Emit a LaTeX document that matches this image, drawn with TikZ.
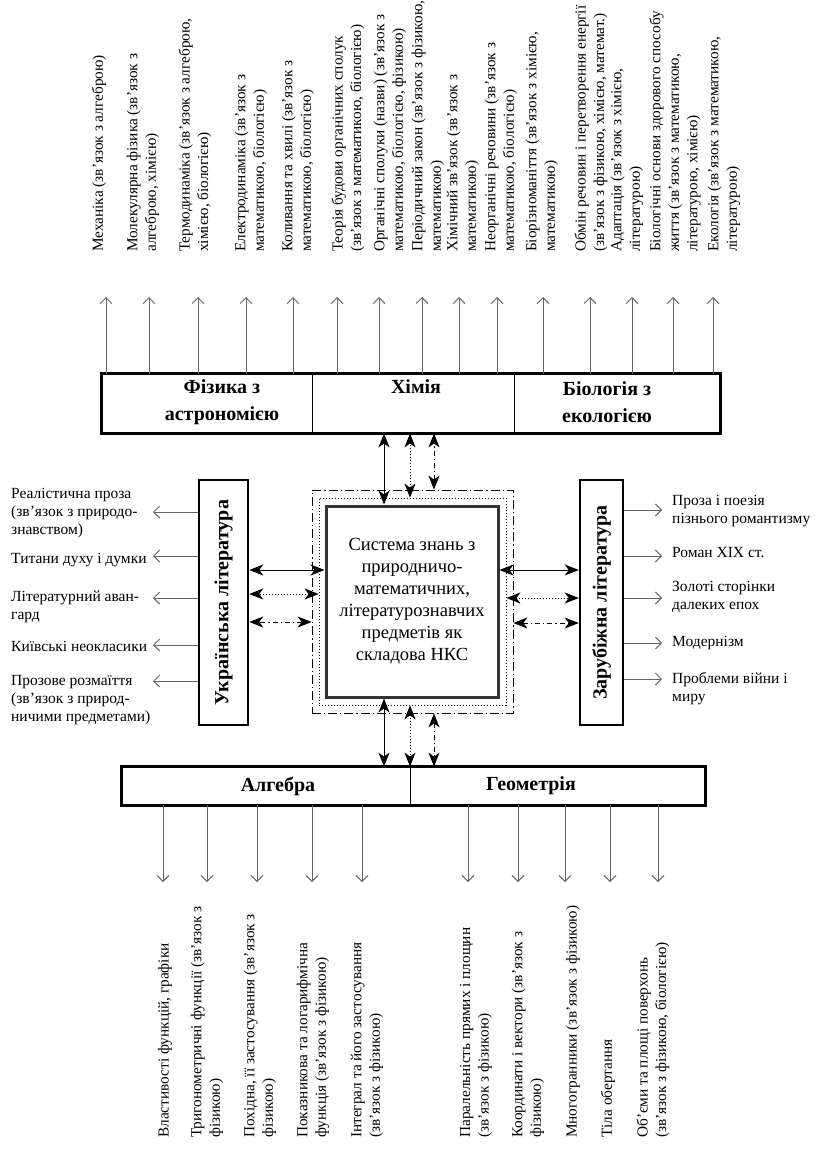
\documentclass[tikz,border=0pt]{standalone}
\usepackage{fontspec}
\setmainfont{Liberation Serif}
\usetikzlibrary{arrows.meta}
\tikzset{
  topic/.style={draw=black!60, line width=0.9pt, -{Straight Barb[length=6pt,width=12pt]}},
  link/.style={line width=0.9pt, {Stealth[length=14pt,width=11pt,inset=4pt]}-{Stealth[length=14pt,width=11pt,inset=4pt]}},
  dotl/.style={link, dash pattern=on 1.2pt off 1.8pt},
  ddl/.style={link, dash pattern=on 5pt off 3pt on 1.2pt off 3pt},
  sect/.style={draw, line width=0.8pt, inner sep=0pt},
  sectlabel/.style={inner sep=0pt, align=center, font=\fontsize{20}{27}\selectfont\bfseries},
  vtext/.style={rotate=90, anchor=west, align=left, inner sep=0pt, font=\fontsize{15.3}{18.5}\selectfont},
  htext/.style={anchor=west, align=left, inner sep=0pt, font=\fontsize{15.5}{18}\selectfont},
  litbox/.style={draw, line width=2.5pt, fill=white, minimum height=245pt, inner sep=0pt, font=\fontsize{20}{22}\selectfont\bfseries},
  frame/.style={draw, line width=0.8pt, inner sep=0pt},
}
\begin{document}
\begin{tikzpicture}[x=1pt,y=-1pt]
\fill[white] (0,0) rectangle (817,1151);
\useasboundingbox (0,0) rectangle (817,1151);

% ---------- top subject box ----------
\node[sect, minimum width=210pt, minimum height=59pt] (phys) at (207,403.5) {};
\node[sect, minimum width=202pt, minimum height=59pt] (chem) at (413,403.5) {};
\node[sect, minimum width=206pt, minimum height=59pt] (bio) at (617,403.5) {};
\draw[line width=2.5pt] (phys.north west) rectangle (bio.south east);
\node[sectlabel] (physl) at (222,402) {Фізика з\\астрономією};
\node[sectlabel, anchor=north] (cheml) at (416,379.5) {Хімія};
\node[sectlabel] (biol) at (607,402) {Біологія з\\екологією};

% ---------- bottom subject box ----------
\node[sect, minimum width=288pt, minimum height=38pt] (alg) at (266,786) {};
\node[sect, minimum width=295pt, minimum height=38pt] (geo) at (557.5,786) {};
\draw[line width=2.5pt] (alg.north west) rectangle (geo.south east);
\node[sectlabel] (algl) at (278,786) {Алгебра};
\node[sectlabel] (geol) at (531,786) {Геометрія};

% ---------- literature boxes ----------
\node[litbox, minimum width=49pt] (ukr) at (223.5,602.5) {\rotatebox{90}{Українська література}};
\node[litbox, minimum width=43pt] (zar) at (601.5,602.5) {\rotatebox{90}{Зарубіжна література}};

% ---------- central system ----------
\node[frame, dash pattern=on 9pt off 3pt on 1.2pt off 3pt, minimum width=201pt, minimum height=223pt] (ddf) at (412.5,601.5) {};
\node[frame, dash pattern=on 1.2pt off 1.8pt, minimum width=187pt, minimum height=207pt] (dotf) at (412.5,601.5) {};
\node[draw=black!80, line width=3pt, fill=white, minimum width=172pt, minimum height=191pt, inner sep=0pt,
      align=center, font=\fontsize{18.5}{22}\selectfont] (sys) at (412,601.5)
  {Система знань з\\природничо-\\математичних,\\літературознавчих\\предметів як\\складова НКС};

% ---------- links to the centre ----------
\coordinate (ts) at ([xshift=-28pt]sys.north);
\coordinate (td) at ([xshift=-2.5pt]dotf.north);
\coordinate (tdd) at ([xshift=21.5pt]ddf.north);
\draw[link] (ts) -- (ts |- chem.south);
\draw[dotl] (td) -- (td |- chem.south);
\draw[ddl] (tdd) -- (tdd |- chem.south);

\coordinate (bs) at ([xshift=-28pt]sys.south);
\coordinate (bd) at ([xshift=-2.5pt]dotf.south);
\coordinate (bdd) at ([xshift=21.5pt]ddf.south);
\draw[link] (bs) -- (bs |- alg.north);
\draw[dotl] (bd) -- (bd |- alg.north);
\draw[ddl] (bdd) -- (bdd |- geo.north);

\coordinate (ls) at ([yshift=31.5pt]sys.west);
\coordinate (ld) at ([yshift=7.5pt]dotf.west);
\coordinate (ldd) at ([yshift=-20.5pt]ddf.west);
\draw[link] (ls) -- (ukr.east |- ls);
\draw[dotl] (ld) -- (ukr.east |- ld);
\draw[ddl] (ldd) -- (ukr.east |- ldd);

\coordinate (rs) at ([yshift=31.5pt]sys.east);
\coordinate (rd) at ([yshift=3.5pt]dotf.east);
\coordinate (rdd) at ([yshift=-21.5pt]ddf.east);
\draw[link] (rs) -- (zar.west |- rs);
\draw[dotl] (rd) -- (zar.west |- rd);
\draw[ddl] (rdd) -- (zar.west |- rdd);

% ---------- top topics ----------
\foreach \i/\x/\s in {1/106/phys,2/149/phys,3/198/phys,4/246/phys,5/293/phys,
                      6/337/chem,7/379/chem,8/422/chem,9/459/chem,10/497/chem,
                      11/543/bio,12/590/bio,13/632/bio,14/673/bio,15/713/bio}{
  \coordinate (tt\i) at (\x,297);
  \draw[topic] (\s.north -| tt\i) -- (tt\i);
}
\foreach \i/\cx/\t in {
  1/99/{Механіка (зв’язок з алгеброю)},
  2/143/{Молекулярна фізика (зв’язок з\\алгеброю, хімією)},
  3/195/{Термодинаміка (зв’язок з алгеброю,\\хімією, біологією)},
  4/251/{Електродинаміка (зв’язок з\\математикою, біологією)},
  5/298/{Коливання та хвилі (зв’язок з\\математикою, біологією)},
  6/348/{Теорія будови органічних сполук\\(зв’язок з математикою, біологією)},
  7/390/{Органічні сполуки (назви) (зв’язок з\\математикою, біологією, фізикою)},
  8/428/{Періодичний закон (зв’язок з фізикою,\\математикою)},
  9/463/{Хімічний зв’язок (зв’язок з\\математикою)},
  10/501/{Неорганічні речовини (зв’язок з\\математикою, біологією)},
  11/542/{Біорізноманіття (зв’язок з хімією,\\математикою)},
  12/591/{Обмін речовин і перетворення енергії\\(зв’язок з фізикою, хімією, математ.)},
  13/627/{Адаптація (зв’язок з хімією,\\літературою)},
  14/675/{Біологічні основи здорового способу\\життя (зв’язок з математикою,\\літературою, хімією)},
  15/724/{Екологія (зв’язок з математикою,\\літературою)}}{
  \node[vtext] (tx\i) at (\cx,252) {\t};
}

% ---------- bottom topics ----------
\foreach \i/\x/\s in {1/163/alg,2/207/alg,3/257/alg,4/312/alg,5/362/alg,
                      6/468/geo,7/518/geo,8/565/geo,9/610/geo,10/658/geo}{
  \coordinate (bt\i) at (\x,882);
  \draw[topic] (\s.south -| bt\i) -- (bt\i);
}
\foreach \i/\cx/\t in {
  1/165/{Властивості функцій, графіки},
  2/207/{Тригонометричні функції (зв’язок з\\фізикою)},
  3/260/{Похідна, її застосування (зв’язок з\\фізикою)},
  4/313/{Показникова та логарифмічна\\функція (зв’язок з фізикою)},
  5/367/{Інтеграл та його застосування\\(зв’язок з фізикою)},
  6/476/{Паралельність прямих і площин\\(зв’язок з фізикою)},
  7/528/{Координати і вектори (зв’язок з\\фізикою)},
  8/573/{Многогранники (зв’язок з фізикою)},
  9/608/{Тіла обертання},
  10/653/{Об’єми та площі поверхонь\\(зв’язок з фізикою, біологією)}}{
  \node[vtext] (bx\i) at (\cx,1138) {\t};
}

% ---------- left topics ----------
\foreach \i/\y in {1/512,2/556,3/598,4/645,5/681}{
  \coordinate (lt\i) at (153,\y);
  \draw[topic] (ukr.west |- lt\i) -- (lt\i);
}
\node[htext] (lx1) at (11,513) {Реалістична проза\\(зв’язок з природо-\\знавством)};
\node[htext] (lx2) at (11,560) {Титани духу і думки};
\node[htext] (lx3) at (11,607) {Літературний аван-\\гард};
\node[htext] (lx4) at (11,646) {Київські неокласики};
\node[htext] (lx5) at (11,700) {Прозове розмаїття\\(зв’язок з природ-\\ничими предметами)};

% ---------- right topics ----------
\foreach \i/\y in {1/510,2/556,3/598,4/643,5/679}{
  \coordinate (rt\i) at (662,\y);
  \draw[topic] (zar.east |- rt\i) -- (rt\i);
}
\node[htext] (rx1) at (672,511) {Проза і поезія\\пізнього романтизму};
\node[htext] (rx2) at (672,553) {Роман XIX ст.};
\node[htext] (rx3) at (672,597) {Золоті сторінки\\далеких епох};
\node[htext] (rx4) at (672,643) {Модернізм};
\node[htext] (rx5) at (672,689) {Проблеми війни і\\миру};
\end{tikzpicture}
\end{document}
